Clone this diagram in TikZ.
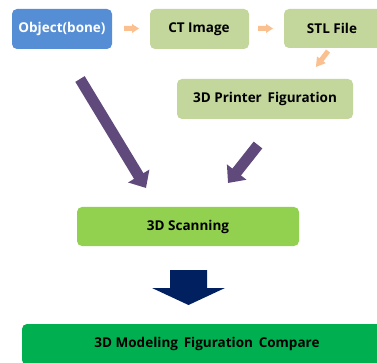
\documentclass[tikz,border=0pt]{standalone}
\usepackage{fontspec}
\setmainfont{Open Sans}
\usetikzlibrary{arrows.meta,calc}
\definecolor{boxblue}{HTML}{558ED5}
\definecolor{boxolive}{HTML}{C3D69B}
\definecolor{boxlime}{HTML}{92D050}
\definecolor{boxgreen}{HTML}{00B050}
\definecolor{arrowpeach}{HTML}{FAC090}
\definecolor{arrowpurple}{HTML}{604A7B}
\definecolor{arrownavy}{HTML}{002060}
\begin{document}
\begin{tikzpicture}[x=1pt,y=-1pt,
  box/.style={rounded corners=5pt, inner sep=0pt, font=\fontsize{13.5}{15}\selectfont\bfseries},
  smallarrow/.style={draw=none, fill=arrowpeach},
  bigarrow/.style={line width=11pt, draw=arrowpurple, -{Triangle[width=24pt,length=14pt]}},
]
\useasboundingbox (0,0) rectangle (377,363);
\clip (0,0) rectangle (377,363);
% boxes
\path[box, fill=boxblue] (12,9) rectangle (112,49);
\node[box, text=white] (obj) at (62,29) {Object(bone)};
\path[box, fill=boxolive] (150,9) rectangle (249,49);
\node[box] (ct) at (199,29) {CT Image};
\path[box, fill=boxolive] (284,9) rectangle (382,48);
\node[box] (stl) at (332,28.5) {STL File};
\path[box, fill=boxolive] (177,79) rectangle (353,119);
\node[box] (printer) at (265,99) {3D Printer\, Figuration};
\path[box, fill=boxlime] (77,207) rectangle (299,246);
\node[box] (scan) at (188,226.5) {3D Scanning};
\path[box, fill=boxgreen] (22,324) rectangle (392,365);
\node[box] (compare) at (207,343.5) {3D Modeling\, Figuration\, Compare};
% small peach arrows
\fill[smallarrow] (124,26) -- (132,26) -- (132,24) -- (139,28.5) -- (132,33) -- (132,31) -- (124,31) -- cycle;
\fill[smallarrow] (258,26) -- (266,26) -- (266,24) -- (273,28.5) -- (266,33) -- (266,31) -- (258,31) -- cycle;
\fill[smallarrow] (326.09,49.54) -- (319.41,58.28) -- (317.03,56.46) -- (315.93,66.94) -- (325.76,63.13) -- (323.38,61.31) -- (330.06,52.58) -- cycle;
% purple arrows
\coordinate (p1s) at (80,79);
\coordinate (p1e) at (146,188);
\coordinate (p2s) at (258,145);
\coordinate (p2e) at (228,183);
\draw[bigarrow] (p1s) -- (p1e);
\draw[bigarrow] (p2s) -- (p2e);
% navy arrow
\fill[arrownavy] (170,270) -- (207,270) -- (207,288) -- (225,288) -- (188.5,305) -- (152,288) -- (170,288) -- cycle;
\end{tikzpicture}
\end{document}
